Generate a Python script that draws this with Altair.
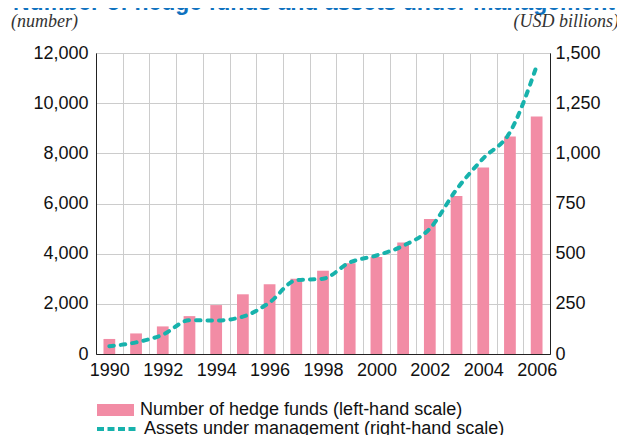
import altair as alt
import pandas as pd

years = list(range(1990, 2007))
funds = [600, 820, 1100, 1510, 1950, 2380, 2780, 3000, 3320, 3620, 3870, 4450, 5380, 6300, 7440, 8670, 9470]
assets = [39, 58, 96, 168, 167, 186, 257, 368, 375, 456, 491, 539, 625, 820, 975, 1105, 1435]

left_ticks = [0, 2000, 4000, 6000, 8000, 10000, 12000]
right_ticks = [0, 250, 500, 750, 1000, 1250, 1500]

title_text = "Number of hedge funds and assets under management"
left_unit = "(number)"
right_unit = "(USD billions)"
funds_label = "Number of hedge funds (left-hand scale)"
assets_label = "Assets under management (right-hand scale)"

PINK = "#f28ca5"
TEAL = "#17b2ac"
SANS = "Liberation Sans"
SERIF = "Liberation Serif"

df = pd.DataFrame({
    "year": years,
    "funds": funds,
    "assets": assets,
    "s1": [funds_label] * len(years),
    "s2": [assets_label] * len(years),
})

base = alt.Chart(df)

x_enc = alt.X(
    "year:O",
    scale=alt.Scale(paddingInner=0, paddingOuter=0),
    axis=alt.Axis(
        title=None, tickBand="extent", grid=True, gridColor="#cccccc", gridWidth=1,
        ticks=False, labelAngle=0, labelFontSize=18, labelPadding=7, labelFont=SANS,
        labelColor="#111111", domainColor="#222222",
        labelExpr="datum.value % 2 == 0 ? datum.label : ''",
    ),
)

bars = base.mark_bar(width=alt.RelativeBandSize(0.44)).encode(
    x=x_enc,
    y=alt.Y(
        "funds:Q",
        scale=alt.Scale(domain=[0, 12000], nice=False),
        axis=alt.Axis(
            orient="left", values=left_ticks, format=",d", title=None, grid=True,
            gridColor="#cccccc", ticks=False, labelPadding=8, labelFontSize=18,
            labelFont=SANS, labelColor="#111111", domainColor="#222222",
        ),
    ),
    fill=alt.Fill(
        "s1:N",
        scale=alt.Scale(range=[PINK]),
        legend=alt.Legend(
            title=None, orient="none", legendX=1, legendY=338.5,
            symbolType="M-1,-0.324H1V0.324H-1Z", symbolSize=1369, symbolStrokeWidth=0,
            labelFontSize=18, labelOffset=6, labelFont=SANS, labelColor="#111111",
            labelLimit=600, padding=0,
        ),
    ),
)

line = base.mark_line(
    interpolate="monotone", strokeWidth=4, strokeDash=[4.5, 7], strokeCap="round"
).encode(
    x=alt.X("year:O"),
    y=alt.Y(
        "assets:Q",
        scale=alt.Scale(domain=[0, 1500], nice=False),
        axis=alt.Axis(
            orient="right", values=right_ticks, format=",d", title=None, grid=False,
            ticks=False, labelPadding=5, labelFontSize=18, labelFont=SANS,
            labelColor="#111111", domainColor="#222222",
        ),
    ),
    stroke=alt.Stroke(
        "s2:N",
        scale=alt.Scale(range=[TEAL]),
        legend=alt.Legend(
            title=None, orient="none", legendX=-1, legendY=354,
            symbolType="stroke", symbolSize=1600, symbolStrokeWidth=4,
            symbolStrokeColor=TEAL, symbolDash=[7, 3.5], labelFontSize=18,
            labelOffset=5, labelFont=SANS, labelColor="#111111", labelLimit=600,
            padding=0,
        ),
    ),
)

title = alt.Chart(pd.DataFrame({"t": [title_text]})).mark_text(
    align="left", baseline="alphabetic", font=SANS, fontWeight="bold",
    fontSize=23, color="#0f72bf",
).encode(text="t:N", x=alt.value(-83), y=alt.value(-43))

unit_left = alt.Chart(pd.DataFrame({"t": [left_unit]})).mark_text(
    align="left", baseline="alphabetic", font=SERIF, fontStyle="italic",
    fontSize=18, color="#333333",
).encode(text="t:N", x=alt.value(-85), y=alt.value(-26))

unit_right = alt.Chart(pd.DataFrame({"t": [right_unit]})).mark_text(
    align="right", baseline="alphabetic", font=SERIF, fontStyle="italic",
    fontSize=18, color="#333333",
).encode(text="t:N", x=alt.value(523), y=alt.value(-26))

chart = alt.layer(bars, line, title, unit_left, unit_right).resolve_scale(
    y="independent"
).properties(
    width=454, height=301,
    autosize=alt.AutoSizeParams(type="none"),
    padding={"left": 88, "top": 45, "right": 67, "bottom": 81},
).configure_view(stroke="#222222", strokeWidth=1)

chart.save("out.html", embed_options={"renderer": "svg", "actions": False})
